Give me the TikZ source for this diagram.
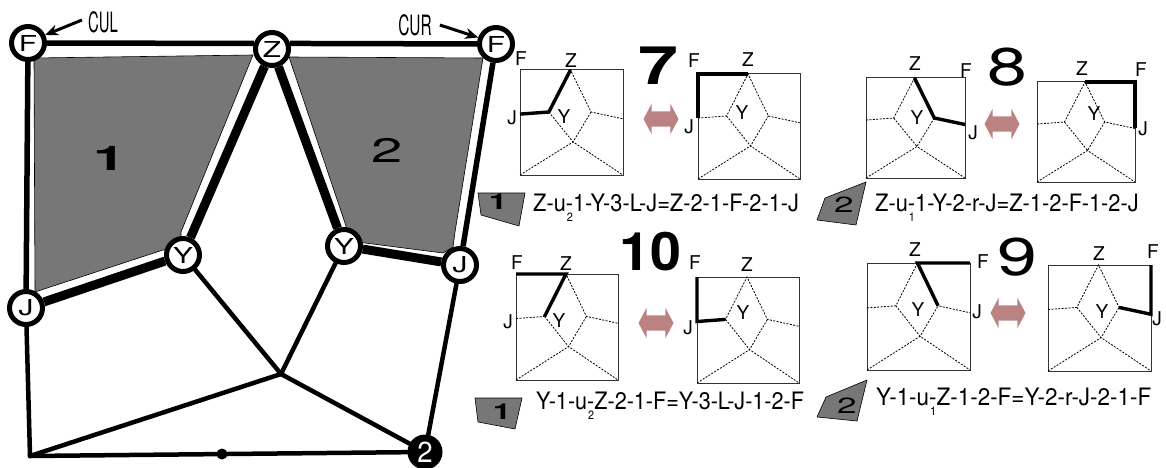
\documentclass[tikz,border=0pt]{standalone}
\usepackage{fontspec}
\usepackage{graphicx}
\setmainfont{TeX Gyre Heros}
\usetikzlibrary{shapes.arrows,arrows.meta}
\definecolor{facegray}{RGB}{119,119,119}
\definecolor{swappink}{RGB}{186,130,130}
\newcommand{\hstretch}[2]{\scalebox{#1}[1]{#2}}
\newcommand{\under}[1]{\makebox[0pt][l]{\hspace{1pt}\raisebox{-10pt}{\fontsize{12}{12}\selectfont #1}}}
\tikzset{
  vtx/.style={
    circle, draw=black, line width=5pt, fill=white,
    minimum size=33pt, inner sep=0pt, font=\fontsize{22}{22}\selectfont
  },
  solidvtx/.style={circle, fill=black, text=white, minimum size=35pt, inner sep=0pt, font=\fontsize{29}{29}\selectfont},
  smalldot/.style={circle, fill=black, minimum size=11pt, inner sep=0pt},
  wideedge/.style={line width=9pt},
  midedge/.style={line width=5.5pt},
  plainedge/.style={line width=4.5pt, line cap=round},
  facepoly/.style={fill=facegray, draw=black, line width=0.6pt},
  facenum/.style={inner sep=0pt, font=\fontsize{34}{34}\selectfont},
  smallnum/.style={inner sep=0pt, font=\fontsize{22}{22}\selectfont},
  bignum/.style={inner sep=0pt, font=\fontsize{53}{53}\selectfont},
  callout/.style={inner sep=0pt, font=\fontsize{28}{28}\selectfont},
  calloutarrow/.style={-{Stealth[length=13pt,width=11pt]}, line width=3pt},
  plabel/.style={inner sep=0pt, font=\fontsize{19}{19}\selectfont},
  eqlabel/.style={inner sep=0pt, anchor=west, font=\fontsize{24}{24}\selectfont},
  swaparrow/.style={
    double arrow, fill=swappink, minimum height=35pt, inner xsep=0pt, inner ysep=7.5pt,
    double arrow head extend=7.5pt, double arrow tip angle=124
  },
  hilite/.style={line width=3.4pt},
  thinedge/.style={line width=0.8pt, dash pattern=on 2pt off 1.4pt},
  paneledge/.style={line width=1pt, draw=black!80},
}
% small copy of the graph: name, left, top, width, height
\newcommand{\panel}[5]{
  \begin{scope}[shift={(#2,#3)},x=#4pt,y=-#5pt]
    \coordinate (#1tl) at (0,0);
    \coordinate (#1tr) at (1,0);
    \coordinate (#1bl) at (0,1);
    \coordinate (#1br) at (1,1);
    \coordinate (#1z) at (.49,0);
    \coordinate (#1yl) at (.28,.40);
    \coordinate (#1yr) at (.69,.40);
    \coordinate (#1hub) at (.515,.685);
    \coordinate (#1l) at (0,.42);
    \coordinate (#1r) at (1,.465);
    \draw[paneledge] (#1tl) rectangle (#1br);
    \draw[thinedge] (#1l) -- (#1yl) -- (#1z) -- (#1yr) -- (#1r);
    \draw[thinedge] (#1yl) -- (#1hub) -- (#1yr);
    \draw[thinedge] (#1bl) -- (#1hub) -- (#1br);
  \end{scope}
}

\begin{document}
\begin{tikzpicture}[x=1pt,y=-1pt]
  \useasboundingbox (0,0) rectangle (1166,468);

  % shaded faces
  \draw[facepoly] (34,58) -- (253,55) -- (181,232) -- (181,250) -- (163,250) -- (35,292) -- cycle;
  \draw[facepoly] (289,57) -- (483,58) -- (455,232) -- (453,247) -- (443,253) -- (365,243) -- (346,240) -- (346,226) -- cycle;
  \node (one) [facenum] at (110,158) {\hstretch{1.7}{\bfseries 1}};
  \node (two) [facenum] at (387,150) {\hstretch{1.65}{2}};

  % big graph
  \node (fl) [vtx] at (28,43) {\hstretch{1.35}{F}};
  \node (z) [vtx] at (272,49) {\hstretch{1.35}{Z}};
  \node (fr) [vtx] at (496,44) {\hstretch{1.35}{F}};
  \node (jl) [vtx] at (26,308) {\hstretch{1.35}{J}};
  \node (yl) [vtx] at (183,255) {\hstretch{1.35}{Y}};
  \node (yr) [vtx] at (344,246) {\hstretch{1.35}{Y}};
  \node (jr) [vtx] at (460,265) {\hstretch{1.35}{J}};
  \coordinate (hub) at (281,374);
  \coordinate (bl) at (30,456);
  \node (sol) [solidvtx] at (425,452) {\hstretch{.95}{2}};
  \node (mid) [smalldot] at (222,454) {};

  \draw[midedge] (fl) -- (z.163);
  \draw[midedge] (z.17) -- (fr);
  \draw[midedge] (fl) -- (jl);
  \draw[midedge] (fr) -- (jr);
  \draw[wideedge] (z) -- (yl);
  \draw[wideedge] (z) -- (yr);
  \draw[wideedge] (yl) -- (jl);
  \draw[wideedge] (yr) -- (jr);
  \draw[plainedge] (yl) -- (hub);
  \draw[plainedge] (yr) -- (hub);
  \draw[plainedge] (bl) -- (hub);
  \draw[plainedge] (hub) -- (sol);
  \draw[plainedge] (jr) -- (sol);
  \draw[plainedge] (jl) -- (bl);
  \draw[plainedge] (bl) -- (sol);

  \node (cul) [callout] at (103,22) {\hstretch{.53}{CUL}};
  \node (cur) [callout] at (415,25) {\hstretch{.55}{CUR}};
  \draw[calloutarrow] (cul.west) ++(-6,-2) coordinate (culstart) (culstart) -- (fl.25);
  \draw[calloutarrow] (cur.east) ++(8,0) coordinate (curstart) (curstart) -- (fr.160);

  % panel 7
  \panel{a}{520}{70}{103}{105}
  \panel{b}{698}{74}{102}{105}
  \draw[hilite] (al) -- (ayl) -- (az);
  \draw[hilite] (bl) -- (btl) -- (bz);
  \node (af) [plabel] at (521,59) {F};
  \node (azl) [plabel] at (571,61) {Z};
  \node (aj) [plabel] at (512,118) {J};
  \node (ay) [plabel] at (564,117) {Y};
  \node (bf) [plabel] at (694,61) {F};
  \node (bzl) [plabel] at (748,60) {Z};
  \node (bj) [plabel] at (689,127) {J};
  \node (by) [plabel] at (742,113) {Y};
  \node (seven) [bignum] at (658,66) {\hstretch{1.35}{\bfseries 7}};
  \node (swapa) [swaparrow] at (661,119) {};

  % panel 8
  \panel{c}{866}{78}{99}{100}
  \panel{d}{1037}{82}{98}{100}
  \draw[hilite] (cz) -- (cyr) -- (cr);
  \draw[hilite] (dz) -- (dtr) -- (dr);
  \node (cf) [plabel] at (966,71) {F};
  \node (czl) [plabel] at (915,64) {Z};
  \node (cj) [plabel] at (973,133) {J};
  \node (cy) [plabel] at (917,118) {Y};
  \node (df) [plabel] at (1141,70) {F};
  \node (dzl) [plabel] at (1082,69) {Z};
  \node (dj) [plabel] at (1143,129) {J};
  \node (dy) [plabel] at (1094,114) {Y};
  \node (eight) [bignum] at (1007,67) {\hstretch{1.35}{8}};
  \node (swapb) [swaparrow] at (1002,124) {};

  % panel 10
  \panel{e}{516}{274}{102}{106}
  \panel{g}{697}{277}{102}{106}
  \draw[hilite] (etl) -- (ez) -- (eyl);
  \draw[hilite] (gtl) -- (gl) -- (gyl);
  \node (ef) [plabel] at (517,263) {F};
  \node (ezl) [plabel] at (566,264) {Z};
  \node (ej) [plabel] at (508,322) {J};
  \node (ey) [plabel] at (559,321) {Y};
  \node (gf) [plabel] at (695,263) {F};
  \node (gzl) [plabel] at (747,265) {Z};
  \node (gj) [plabel] at (688,328) {J};
  \node (gy) [plabel] at (743,313) {Y};
  \node (ten) [bignum] at (650,252) {\hstretch{1.05}{\bfseries 10}};
  \node (swapc) [swaparrow] at (656,323) {};

  % panel 9
  \panel{h}{867}{263}{103}{107}
  \panel{k}{1048}{265}{103}{106}
  \draw[hilite] (htr) -- (hz) -- (hyr);
  \draw[hilite] (ktr) -- (kr) -- (kyr);
  \node (hf) [plabel] at (983,262) {F};
  \node (hzl) [plabel] at (915,250) {Z};
  \node (hj) [plabel] at (977,312) {J};
  \node (hy) [plabel] at (918,310) {Y};
  \node (kf) [plabel] at (1153,252) {F};
  \node (kzl) [plabel] at (1099,254) {Z};
  \node (kj) [plabel] at (1157,319) {J};
  \node (ky) [plabel] at (1102,312) {Y};
  \node (nine) [bignum] at (1017,257) {\hstretch{1.35}{9}};
  \node (swapd) [swaparrow] at (1008,313) {};

  % small faces and words
  \draw[facepoly] (478,193) -- (525,193) -- (519,226) -- (481,215) -- cycle;
  \node (ka) [smallnum] at (498,202) {\hstretch{1.5}{\bfseries 1}};
  \node (eqa) [eqlabel] at (533,208) {\hstretch{.907}{Z-u\under{2}-1-Y-3-L-J=Z-2-1-F-2-1-J}};
  \draw[facepoly] (866,182) -- (856,225) -- (817,220) -- (825,198) -- cycle;
  \node (kb) [smallnum] at (844,205) {\hstretch{1.6}{2}};
  \node (eqb) [eqlabel] at (875,208) {\hstretch{.91}{Z-u\under{1}-1-Y-2-r-J=Z-1-2-F-1-2-J}};
  \draw[facepoly] (475,398) -- (522,398) -- (515,429) -- (478,422) -- cycle;
  \node (kc) [smallnum] at (502,412) {\hstretch{1.5}{\bfseries 1}};
  \node (eqc) [eqlabel] at (536,406) {\hstretch{.9}{Y-1-u\under{2}-Z-2-1-F=Y-3-L-J-1-2-F}};
  \draw[facepoly] (867,380) -- (857,421) -- (817,417) -- (826,397) -- cycle;
  \node (kd) [smallnum] at (847,406) {\hstretch{1.6}{2}};
  \node (eqd) [eqlabel] at (876,402) {\hstretch{.935}{Y-1-u\under{1}-Z-1-2-F=Y-2-r-J-2-1-F}};
\end{tikzpicture}
\end{document}
